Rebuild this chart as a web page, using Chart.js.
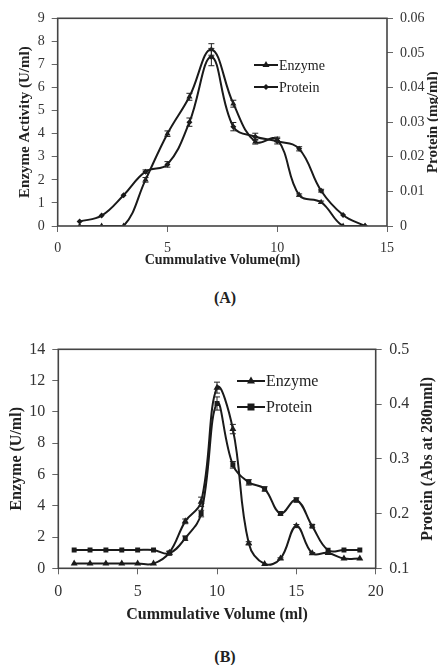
<!DOCTYPE html>
<html>
<head>
<meta charset="utf-8">
<script src="https://cdn.jsdelivr.net/npm/chart.js@4.4.0/dist/chart.umd.min.js"></script>
<style>
  body { margin: 0; background: #fff; width: 438px; height: 665px; position: relative; overflow: hidden; font-family: "Liberation Serif", serif; }
  canvas { position: absolute; left: 0; }
  #chartA { top: 0; }
  #chartB { top: 330px; }
  .cap { position: absolute; left: 200px; width: 50px; text-align: center; font-weight: bold; font-size: 16px; line-height: 18px; color: #222; }
</style>
</head>
<body>
<canvas id="chartA" width="438" height="270"></canvas>
<div class="cap" style="top:289px">(A)</div>
<canvas id="chartB" width="438" height="300"></canvas>
<div class="cap" style="top:648px">(B)</div>
<script>
// ---- chart A data ----
const volumeA = [1, 2, 3, 4, 5, 6, 7, 8, 9, 10, 11, 12, 13, 14];
const enzymeA = [0, 0, 0, 2.0, 4.0, 5.6, 7.65, 5.3, 3.65, 3.75, 1.34, 1.03, 0, 0];
const enzymeErrA = [0, 0, 0, 0.1, 0.12, 0.15, 0.25, 0.15, 0.1, 0.1, 0.05, 0.05, 0, 0];
const proteinA = [0.0013, 0.003, 0.0089, 0.0157, 0.0178, 0.030, 0.0488, 0.0287, 0.0258, 0.0245, 0.0223, 0.0102, 0.0032, 0];
const proteinErrA = [0, 0, 0, 0.0005, 0.0008, 0.0012, 0.0025, 0.0012, 0.001, 0.0008, 0.0006, 0.0004, 0, 0];
const xTicksA = [0, 5, 10, 15];
const enzymeTicksA = [0, 1, 2, 3, 4, 5, 6, 7, 8, 9];
const proteinTicksA = [0, 0.01, 0.02, 0.03, 0.04, 0.05, 0.06];

// ---- chart B data ----
const volumeB = [1, 2, 3, 4, 5, 6, 7, 8, 9, 10, 11, 12, 13, 14, 15, 16, 17, 18, 19];
const enzymeB = [0.3, 0.3, 0.3, 0.3, 0.3, 0.3, 1.0, 3.0, 4.25, 11.55, 8.9, 1.6, 0.28, 0.62, 2.7, 0.96, 0.98, 0.62, 0.62];
const enzymeErrB = [0, 0, 0, 0, 0, 0, 0.1, 0.15, 0.3, 0.35, 0.3, 0.1, 0, 0.05, 0.1, 0.05, 0.05, 0, 0];
const proteinB = [0.1334, 0.1334, 0.1334, 0.1334, 0.1334, 0.1334, 0.1274, 0.155, 0.2, 0.401, 0.289, 0.257, 0.245, 0.2, 0.2248, 0.177, 0.133, 0.1334, 0.1334];
const proteinErrB = [0, 0, 0, 0, 0, 0, 0.003, 0.004, 0.006, 0.012, 0.006, 0.005, 0.004, 0.003, 0.004, 0.003, 0, 0, 0];
const xTicksB = [0, 5, 10, 15, 20];
const enzymeTicksB = [0, 2, 4, 6, 8, 10, 12, 14];
const proteinTicksB = [0.1, 0.2, 0.3, 0.4, 0.5];

const ink = '#1a1a1a';
const textCol = '#333';
const serif = '"Liberation Serif", "Times New Roman", serif';

function drawMarker(ctx, style, x, y, r) {
  ctx.beginPath();
  if (style === 'triangle') {
    ctx.moveTo(x, y - r * 1.15);
    ctx.lineTo(x + r, y + r * 0.6);
    ctx.lineTo(x - r, y + r * 0.6);
  } else if (style === 'rectRot') {
    ctx.moveTo(x, y - r);
    ctx.lineTo(x + r, y);
    ctx.lineTo(x, y + r);
    ctx.lineTo(x - r, y);
  } else {
    ctx.rect(x - r, y - r, r * 2, r * 2);
  }
  ctx.closePath();
  ctx.fill();
}

// error bars drawn through the dataset's own y scale
const errorBars = {
  id: 'errorBars',
  afterDatasetsDraw(chart) {
    const ctx = chart.ctx;
    chart.data.datasets.forEach((ds, i) => {
      if (!ds.errors) return;
      const meta = chart.getDatasetMeta(i);
      const ys = chart.scales[ds.yAxisID];
      ctx.save();
      ctx.strokeStyle = '#222';
      ctx.lineWidth = 1;
      meta.data.forEach((pt, j) => {
        const e = ds.errors[j];
        if (!e) return;
        const v = ds.data[j].y;
        const y1 = ys.getPixelForValue(v + e);
        const y2 = ys.getPixelForValue(v - e);
        ctx.beginPath();
        ctx.moveTo(pt.x, y1); ctx.lineTo(pt.x, y2);
        ctx.moveTo(pt.x - 3, y1); ctx.lineTo(pt.x + 3, y1);
        ctx.moveTo(pt.x - 3, y2); ctx.lineTo(pt.x + 3, y2);
        ctx.stroke();
      });
      ctx.restore();
    });
  }
};

// box round the plot, right-hand title and the inset legend
const frameAndLegend = {
  id: 'frameAndLegend',
  afterDraw(chart, args, opts) {
    const { ctx, chartArea } = chart;
    ctx.save();
    ctx.strokeStyle = '#444';
    ctx.lineWidth = 1.6;
    ctx.strokeRect(chartArea.left, chartArea.top, chartArea.right - chartArea.left, chartArea.bottom - chartArea.top);

    // right axis title, read bottom to top
    ctx.translate(opts.rightTitleX, (chartArea.top + chartArea.bottom) / 2);
    ctx.rotate(-Math.PI / 2);
    ctx.font = 'bold ' + opts.titleSize + 'px ' + serif;
    ctx.fillStyle = '#222';
    ctx.textAlign = 'center';
    ctx.textBaseline = 'middle';
    ctx.fillText(opts.rightTitle, 0, 0);
    ctx.restore();

    // legend
    ctx.save();
    ctx.font = opts.legendSize + 'px ' + serif;
    ctx.textBaseline = 'middle';
    ctx.textAlign = 'left';
    chart.data.datasets.forEach((ds, i) => {
      const y = opts.legendY + i * opts.legendGap;
      ctx.strokeStyle = ink;
      ctx.lineWidth = 2;
      ctx.beginPath();
      ctx.moveTo(opts.legendX, y);
      ctx.lineTo(opts.legendX + opts.legendLine, y);
      ctx.stroke();
      ctx.fillStyle = ink;
      drawMarker(ctx, ds.pointStyle, opts.legendX + opts.legendLine / 2, y, ds.pointRadius);
      ctx.fillStyle = '#222';
      ctx.fillText(ds.label, opts.legendX + opts.legendLine + 1, y + 1);
    });
    ctx.restore();
  }
};

function series(xs, ys) {
  return xs.map((x, i) => ({ x: x, y: ys[i] }));
}

function lineSet(label, xs, ys, errs, axis, style, r) {
  return {
    label: label,
    data: series(xs, ys),
    errors: errs,
    yAxisID: axis,
    borderColor: ink,
    backgroundColor: ink,
    borderWidth: 2,
    pointStyle: style,
    pointRadius: r,
    pointBorderWidth: 0,
    pointBackgroundColor: ink,
    tension: 0.4,
    fill: false
  };
}

function axisTicks(list) {
  return scale => {
    scale.ticks = list.map(v => ({ value: v }));
  };
}

function makeChart(id, o) {
  const tickFont = { family: serif, size: o.tickSize };
  const tickGrid = { display: true, drawOnChartArea: false, drawTicks: true, tickLength: 6, color: '#666', lineWidth: 1 };
  return new Chart(document.getElementById(id), {
    type: 'line',
    data: { datasets: o.datasets },
    options: {
      responsive: false,
      animation: false,
      devicePixelRatio: 1,
      layout: { padding: { top: o.padTop, left: 0, right: 0, bottom: 0 } },
      scales: {
        x: {
          type: 'linear',
          position: 'bottom',
          min: o.xTicks[0],
          max: o.xTicks[o.xTicks.length - 1],
          afterBuildTicks: axisTicks(o.xTicks),
          afterFit: s => { s.height = o.xHeight; },
          grid: tickGrid,
          border: { display: false },
          ticks: { font: tickFont, color: textCol, padding: o.xTickPad, maxRotation: 0 },
          title: { display: true, text: o.xTitle, color: '#222', font: { family: serif, size: o.xTitleSize, weight: 'bold' }, padding: { top: 0, bottom: o.xTitlePad } }
        },
        y: {
          position: 'left',
          min: o.leftTicks[0],
          max: o.leftTicks[o.leftTicks.length - 1],
          afterBuildTicks: axisTicks(o.leftTicks),
          afterFit: s => { s.width = o.leftWidth; },
          grid: tickGrid,
          border: { display: false },
          ticks: { font: tickFont, color: textCol, padding: 7 },
          title: { display: true, text: o.leftTitle, color: '#222', font: { family: serif, size: o.titleSize, weight: 'bold' }, padding: { top: o.leftTitlePad, bottom: 0 } }
        },
        y2: {
          position: 'right',
          min: o.rightTicks[0],
          max: o.rightTicks[o.rightTicks.length - 1],
          afterBuildTicks: axisTicks(o.rightTicks),
          afterFit: s => { s.width = o.rightWidth; },
          grid: tickGrid,
          border: { display: false },
          ticks: { font: tickFont, color: textCol, padding: o.rightTickPad, callback: v => String(v) }
        }
      },
      plugins: {
        legend: { display: false },
        tooltip: { enabled: false },
        frameAndLegend: {
          rightTitle: o.rightTitle,
          rightTitleX: o.rightTitleX,
          titleSize: o.titleSize,
          legendX: o.legendX,
          legendY: o.legendY,
          legendGap: o.legendGap,
          legendLine: o.legendLine,
          legendSize: o.legendSize
        }
      }
    },
    plugins: [errorBars, frameAndLegend]
  });
}

makeChart('chartA', {
  datasets: [
    lineSet('Enzyme', volumeA, enzymeA, enzymeErrA, 'y', 'triangle', 3.5),
    lineSet('Protein', volumeA, proteinA, proteinErrA, 'y2', 'rectRot', 3)
  ],
  xTicks: xTicksA, leftTicks: enzymeTicksA, rightTicks: proteinTicksA,
  padTop: 18.3, xHeight: 44, leftWidth: 57.7, rightWidth: 51,
  tickSize: 14, xTickPad: 8, rightTickPad: 7,
  xTitle: 'Cummulative Volume(ml)', xTitleSize: 14, xTitlePad: 1.6,
  leftTitle: 'Enzyme Activity (U/ml)', leftTitlePad: 16, titleSize: 15,
  rightTitle: 'Protein (mg/ml)', rightTitleX: 433,
  legendX: 254, legendY: 65, legendGap: 22, legendLine: 24, legendSize: 14
});

makeChart('chartB', {
  datasets: [
    lineSet('Enzyme', volumeB, enzymeB, enzymeErrB, 'y', 'triangle', 4),
    lineSet('Protein', volumeB, proteinB, proteinErrB, 'y2', 'rect', 3.5)
  ],
  xTicks: xTicksB, leftTicks: enzymeTicksB, rightTicks: proteinTicksB,
  padTop: 19.3, xHeight: 61.7, leftWidth: 58.3, rightWidth: 62.3,
  tickSize: 16, xTickPad: 8, rightTickPad: 7.5,
  xTitle: 'Cummulative Volume (ml)', xTitleSize: 16, xTitlePad: 5.4,
  leftTitle: 'Enzyme (U/ml)', leftTitlePad: 7.4, titleSize: 16,
  rightTitle: 'Protein (Abs at 280nml)', rightTitleX: 428,
  legendX: 237, legendY: 51, legendGap: 26, legendLine: 28, legendSize: 16
});
</script>
</body>
</html>
